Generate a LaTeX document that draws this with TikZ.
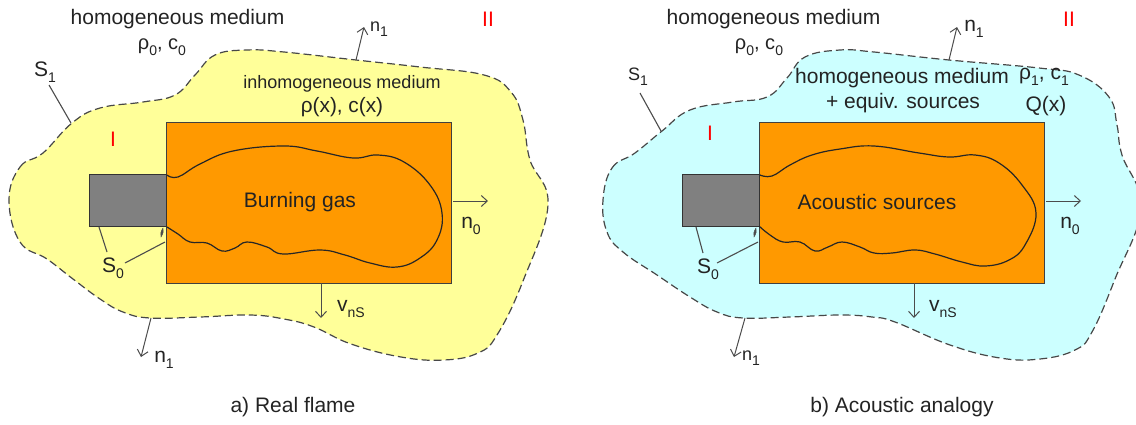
\documentclass[tikz,border=0pt]{standalone}
\usepackage{fontspec}
\setmainfont{Liberation Sans}
\usetikzlibrary{arrows.meta}
\definecolor{txt}{RGB}{35,35,35}
\definecolor{yel}{RGB}{255,255,153}
\definecolor{cya}{RGB}{204,255,255}
\definecolor{org}{RGB}{255,153,0}
\definecolor{gry}{RGB}{128,128,128}
\tikzset{
  lab/.style={inner sep=0pt,text=txt,font=\fontsize{21}{25}\selectfont,align=center},
  labs/.style={inner sep=0pt,text=txt,font=\fontsize{18}{22}\selectfont,align=center},
  roman/.style={inner sep=0pt,text=red,font=\fontsize{21}{24}\selectfont},
  blob/.style={draw=black!72,line width=1.2pt,dash pattern=on 8pt off 4pt},
  box/.style={draw=black!75,fill=org,line width=1.2pt},
  nozzle/.style={draw=black!80,fill=gry,line width=1.2pt},
  flame/.style={draw=black!85,line width=1.2pt},
  lead/.style={draw=black!70,line width=1.1pt},
  arr/.style={draw=black!70,line width=1pt,-{Straight Barb[length=6pt,width=11pt]}},
}
\newcommand{\subs}[1]{\raisebox{-0.3em}{\fontsize{14}{14}\selectfont #1}}
\begin{document}
\begin{tikzpicture}[x=1pt,y=-1pt]
\useasboundingbox (0,0) rectangle (1136,424);
% --- panel a ---
\draw[blob,fill=yel] plot[smooth cycle,tension=0.7] coordinates {(9,200) (20,167) (43,153) (72,123) (100,108) (143,102) (175,95) (195,75) (215,55) (247,50) (284,52) (356,60) (420,67) (484,75) (511,92) (523,120) (530,160) (548,205) (523,281) (497,335) (478,353) (444,360) (401,357) (351,344) (314,327) (284,319) (250,315) (200,317) (150,318) (123,312) (100,299) (73,279) (47,259) (20,242)};
\node[box,minimum width=285pt,minimum height=161pt,anchor=north west,inner sep=0pt] (boxa) at (166,122) {};
\node[nozzle,minimum width=77pt,minimum height=52pt,anchor=north west,inner sep=0pt] (noza) at (89,174) {};
\draw[flame] plot[smooth,tension=0.7] coordinates {(167,175) (178,177) (200,164) (233,151) (284,146) (317,151) (353,158) (378,155) (404,162) (430,185) (442,213) (437,240) (420,258) (397,267) (370,263) (345,255) (320,250) (283,254) (267,247) (247,242) (235,248) (222,251) (207,243) (190,242) (178,234) (167,227)};
\draw[draw=black!70,fill=black!70] (163,228) .. controls (164,231) and (163,234) .. (161,237) .. controls (160,234) and (161,231) .. (163,228) -- cycle;
\node[lab] (ta) at (177.5,19) {homogeneous medium};
\node[lab,font=\fontsize{20}{24}\selectfont] (tb) at (162,47) {ρ\subs{0}, c\subs{0}};
\node[lab] (s1a) at (45,72) {S\subs{1}};
\node[roman] (ia) at (113,139) {I};
\node[roman] (iia) at (488,19) {II};
\node[labs] (n1ta) at (379,29) {n\subs{1}};
\node[labs] (inh) at (342,84) {inhomogeneous medium};
\node[lab,font=\fontsize{20.8}{25}\selectfont] (rhoc) at (342,107) {ρ(x), c(x)};
\node[lab] (fa) at (300,202) {Burning gas};
\node[lab] (n0a) at (471,226) {n\subs{0}};
\node[lab] (vna) at (351,309) {v\subs{nS}};
\node[lab] (s0a) at (113,268) {S\subs{0}};
\node[lab] (n1ba) at (164,360) {n\subs{1}};
\node[lab] (capa) at (293,407) {a) Real flame};
\coordinate (s1af) at (49,85); \coordinate (s1at) at (71,123);
\draw[lead] (s1af) -- (s1at);
\coordinate (s0a1) at (99,227); \coordinate (s0a2) at (107,252);
\draw[lead] (s0a1) -- (s0a2);
\coordinate (s0a3) at (125,263); \coordinate (s0a4) at (165,242);
\draw[lead] (s0a3) -- (s0a4);
\coordinate (n1a1) at (356,60); \coordinate (n1a2) at (364,27);
\draw[arr] (n1a1) -- (n1a2);
\coordinate (n1a3) at (151,318); \coordinate (n1a4) at (141,357);
\draw[arr] (n1a3) -- (n1a4);
\coordinate (n0a1) at (453,201); \coordinate (n0a2) at (488,201);
\draw[arr] (n0a1) -- (n0a2);
\coordinate (va1) at (321,283); \coordinate (va2) at (321,318);
\draw[arr] (va1) -- (va2);
% --- panel b ---
\draw[blob,fill=cya] plot[smooth cycle,tension=0.7] coordinates {(603,200) (612,168) (635,153) (662,131) (690,110) (733,102) (767,97) (787,78) (805,57) (840,50) (874,52) (949,60) (1039,68) (1079,75) (1109,97) (1117,125) (1122,155) (1141,208) (1115,279) (1092,332) (1075,350) (1040,359) (1000,358) (950,345) (895,322) (872,317) (840,315) (790,317) (743,318) (717,312) (690,297) (657,275) (623,252) (607,232)};
\node[box,minimum width=285pt,minimum height=161pt,anchor=north west,inner sep=0pt] (boxb) at (759,122) {};
\node[nozzle,minimum width=77pt,minimum height=52pt,anchor=north west,inner sep=0pt] (nozb) at (682,174) {};
\draw[flame] plot[smooth,tension=0.7] coordinates {(760,175) (772,176) (790,165) (812,155) (840,149) (874,146) (919,153) (949,157) (975,155) (999,163) (1022,185) (1036,213) (1025,245) (1009,260) (985,266) (962,262) (935,254) (915,250) (892,253) (874,253) (860,247) (842,242) (828,247) (815,251) (800,242) (783,242) (770,235) (759,226)};
\draw[draw=black!70,fill=black!70] (756,228) .. controls (757,231) and (756,234) .. (754,237) .. controls (753,234) and (754,231) .. (756,228) -- cycle;
\node[lab] (tc) at (773.5,19) {homogeneous medium};
\node[lab,font=\fontsize{20}{24}\selectfont] (td) at (759,47) {ρ\subs{0}, c\subs{0}};
\node[labs] (s1b) at (638,77) {S\subs{1}};
\node[roman] (ib) at (710,133) {I};
\node[roman] (iib) at (1069,19) {II};
\node[lab] (n1tb) at (974,29) {n\subs{1}};
\node[lab] (hm) at (902,78) {homogeneous medium};
\node[lab] (eq) at (903,103) {+ equiv. sources};
\node[lab] (rc) at (1044,77) {ρ\subs{1}, c\subs{1}};
\node[lab] (qx) at (1046,106) {Q(x)};
\node[lab] (fb) at (877,202) {Acoustic sources};
\node[lab] (n0b) at (1070,226) {n\subs{0}};
\node[lab] (vnb) at (943,309) {v\subs{nS}};
\node[lab] (s0b) at (708,269) {S\subs{0}};
\node[labs] (n1bb) at (751,358) {n\subs{1}};
\node[lab] (capb) at (902,407) {b) Acoustic analogy};
\coordinate (s1bf) at (640,93); \coordinate (s1bt) at (661,131);
\draw[lead] (s1bf) -- (s1bt);
\coordinate (s0b1) at (696,227); \coordinate (s0b2) at (703,253);
\draw[lead] (s0b1) -- (s0b2);
\coordinate (s0b3) at (717,263); \coordinate (s0b4) at (758,242);
\draw[lead] (s0b3) -- (s0b4);
\coordinate (n1b1) at (949,60); \coordinate (n1b2) at (957,27);
\draw[arr] (n1b1) -- (n1b2);
\coordinate (n1b3) at (745,318); \coordinate (n1b4) at (734,357);
\draw[arr] (n1b3) -- (n1b4);
\coordinate (n0b1) at (1046,201); \coordinate (n0b2) at (1081,201);
\draw[arr] (n0b1) -- (n0b2);
\coordinate (vb1) at (914,283); \coordinate (vb2) at (914,318);
\draw[arr] (vb1) -- (vb2);
\end{tikzpicture}
\end{document}
